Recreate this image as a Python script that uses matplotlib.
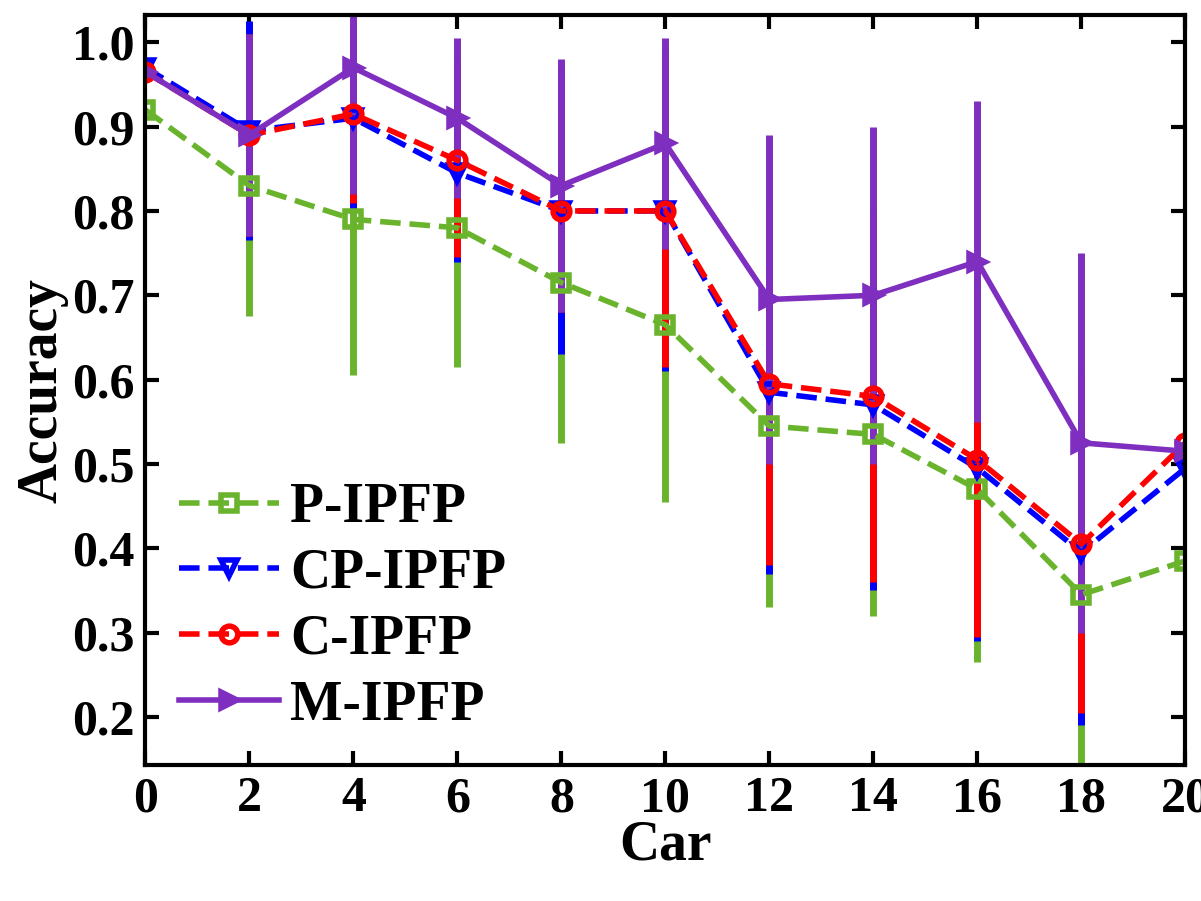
import numpy as np
import matplotlib
matplotlib.use("Agg")
import matplotlib.pyplot as plt
from matplotlib.lines import Line2D

plt.rcParams['font.family'] = ['Liberation Serif', 'DejaVu Serif']
plt.rcParams['font.weight'] = 'bold'

x = [0, 2, 4, 6, 8, 10, 12, 14, 16, 18, 20]

p_mean = [0.92, 0.83, 0.79, 0.78, 0.715, 0.665, 0.545, 0.535, 0.47, 0.345, 0.385]
p_err = [0, 0.155, 0.185, 0.165, 0.19, 0.21, 0.215, 0.215, 0.205, 0.22, 0]

cp_mean = [0.97, 0.895, 0.91, 0.845, 0.80, 0.80, 0.585, 0.57, 0.495, 0.395, 0.495]
cp_err = [0, 0.13, 0.11, 0.105, 0.17, 0.19, 0.215, 0.22, 0.205, 0.205, 0]

c_mean = [0.965, 0.89, 0.915, 0.86, 0.80, 0.80, 0.595, 0.58, 0.505, 0.405, 0.525]
c_err = [0, 0.12, 0.105, 0.115, 0.12, 0.185, 0.215, 0.22, 0.21, 0.2, 0]

m_mean = [0.965, 0.89, 0.97, 0.91, 0.83, 0.88, 0.695, 0.70, 0.74, 0.525, 0.515]
m_err = [0, 0.12, 0.15, 0.095, 0.15, 0.125, 0.195, 0.2, 0.19, 0.225, 0]

fig = plt.figure(figsize=(12.01, 9.01), dpi=100)
ax = fig.add_axes([0.121, 0.151, 0.866, 0.832])

series = [
    ("P-IPFP", p_mean, p_err, '#6ab42d', 's', '--', True),
    ("CP-IPFP", cp_mean, cp_err, '#0000ff', 'v', '--', True),
    ("C-IPFP", c_mean, c_err, '#ff0000', 'o', '--', True),
    ("M-IPFP", m_mean, m_err, '#7f2fbf', '>', '-', False),
]
handles = []
for name, m, e, col, mk, ls, hollow in series:
    fc = 'none' if hollow else col
    ax.errorbar(x, m, yerr=e, color=col, marker=mk, linestyle=ls, linewidth=4,
                elinewidth=5, capsize=0, markersize=12, markeredgewidth=4,
                markerfacecolor=fc)
    handles.append(Line2D([], [], color=col, marker=mk, linestyle=ls, linewidth=4,
                          markersize=12, markeredgewidth=4, markerfacecolor=fc,
                          label=name))

ax.set_xlim(0, 20)
ax.set_ylim(0.143, 1.032)
ax.set_xticks(range(0, 21, 2))
ax.set_yticks([0.2, 0.3, 0.4, 0.5, 0.6, 0.7, 0.8, 0.9, 1.0])
ax.set_yticklabels(['0.2', '0.3', '0.4', '0.5', '0.6', '0.7', '0.8', '0.9', '1.0'])
ax.tick_params(labelsize=36, width=3, length=10, direction='in', top=True, right=True, pad=8)
for s in ax.spines.values():
    s.set_linewidth(3)
ax.set_xlabel("Car", fontsize=40, fontweight='bold', labelpad=-2)
ax.set_ylabel("Accuracy", fontsize=40, fontweight='bold', labelpad=2)
ax.legend(handles=handles, loc='lower left', frameon=False, fontsize=40,
          handlelength=1.8, borderaxespad=0.2, labelspacing=0.25, handletextpad=0.2)

fig.savefig("out.png", dpi=100)
